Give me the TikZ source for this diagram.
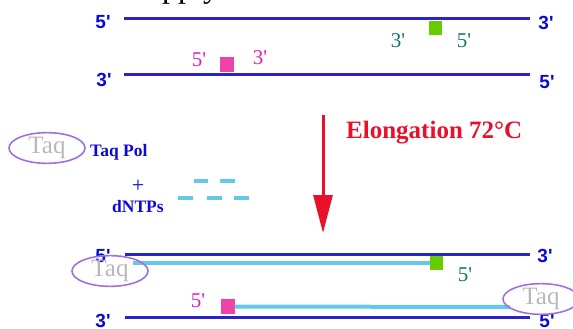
\documentclass[tikz,border=0pt]{standalone}
\usepackage{fontspec}
\setmainfont{Liberation Serif}[Ligatures=TeXOff]
\newfontfamily\lsans{Liberation Sans}[Ligatures=TeXOff]
\usetikzlibrary{arrows.meta,shapes.geometric}
\definecolor{strand}{HTML}{2A22CC}
\definecolor{newstrand}{HTML}{66C8E8}
\definecolor{endblue}{HTML}{0A0AD8}
\definecolor{primgreen}{HTML}{66CC00}
\definecolor{primpink}{HTML}{EE44AA}
\definecolor{tealtxt}{HTML}{117766}
\definecolor{magtxt}{HTML}{E020B0}
\definecolor{elored}{HTML}{E8102A}
\definecolor{taqpurple}{HTML}{A070E0}
\definecolor{taqgray}{HTML}{B8B8B8}
\tikzset{
  dna/.style={line width=3pt,color=strand},
  newdna/.style={line width=4pt,color=newstrand},
  endlab/.style={font=\lsans\bfseries\fontsize{19}{19}\selectfont,text=endblue,inner sep=0pt},
  tealab/.style={font=\fontsize{21}{21}\selectfont,text=tealtxt,inner sep=0pt},
  maglab/.style={font=\fontsize{21}{21}\selectfont,text=magtxt,inner sep=0pt},
  primg/.style={fill=primgreen,draw=none,minimum width=13pt,minimum height=14pt,inner sep=0pt},
  primp/.style={fill=primpink,draw=none,minimum width=14pt,minimum height=15pt,inner sep=0pt},
  taq/.style={ellipse,draw=taqpurple,line width=1.6pt,minimum width=76pt,minimum height=30pt,inner sep=0pt,
     font=\fontsize{25}{25}\selectfont,text=taqgray},
  bluetxt/.style={font=\bfseries\fontsize{17.5}{17.5}\selectfont,text=endblue,inner sep=0pt},
  dntp/.style={line width=3.5pt,color=newstrand},
}
\begin{document}
\begin{tikzpicture}[x=1pt,y=-1pt]
\useasboundingbox (0,0) rectangle (573,329);
\begin{scope}
\clip (0,0) rectangle (573,329);
\node[anchor=base west,font=\fontsize{32}{32}\selectfont,inner sep=0pt] (title) at (162,-2.5) {pply};
\end{scope}
% top double strand
\coordinate (s1a) at (124,19); \coordinate (s1b) at (530,19);
\coordinate (s2a) at (124,75); \coordinate (s2b) at (530,75);
\draw[dna] (s1a) -- (s1b);
\draw[dna] (s2a) -- (s2b);
\node[endlab] (l1a) at (103,22) {5'};
\node[endlab] (l1b) at (546,23) {3'};
\node[endlab] (l2a) at (104,80) {3'};
\node[endlab] (l2b) at (547,82) {5'};
\node[primg] (g1) at (435.5,28.5) {};
\node[tealab] (g1l) at (398,41) {3'};
\node[tealab] (g1r) at (464,41) {5'};
\node[primp] (p1) at (227,65) {};
\node[maglab] (p1l) at (199,60) {5'};
\node[maglab] (p1r) at (260,58) {3'};
% elongation arrow
\coordinate (arA) at (323,115); \coordinate (arB) at (323,233);
\draw[line width=3pt,elored,-{Triangle[width=19pt,length=38pt]}] (arA) -- (arB);
\node[anchor=west,font=\bfseries\fontsize{25}{25}\selectfont,text=elored,inner sep=0pt] (elo) at (346,133) {Elongation 72\textdegree C};
% Taq pol and dNTPs
\node[taq] (taq1) at (47,148) {Taq};
\node[bluetxt,anchor=west] (taqpol) at (90,152) {Taq Pol};
\node[bluetxt,font=\fontsize{22}{22}\selectfont] (plus) at (138,186) {+};
\node[bluetxt,anchor=west] (dntps) at (112,207) {dNTPs};
\coordinate (d1a) at (194,181); \coordinate (d1b) at (208,181);
\coordinate (d2a) at (220,181); \coordinate (d2b) at (235,181);
\coordinate (d3a) at (178,198); \coordinate (d3b) at (193,198);
\coordinate (d4a) at (207,198); \coordinate (d4b) at (222,198);
\coordinate (d5a) at (234,198); \coordinate (d5b) at (249,198);
\draw[dntp] (d1a) -- (d1b);
\draw[dntp] (d2a) -- (d2b);
\draw[dntp] (d3a) -- (d3b);
\draw[dntp] (d4a) -- (d4b);
\draw[dntp] (d5a) -- (d5b);
% bottom strands
\coordinate (s3a) at (125,254); \coordinate (s3b) at (530,254);
\coordinate (s4a) at (125,317); \coordinate (s4b) at (530,317);
\draw[dna] (s3a) -- (s3b);
\draw[dna] (s4a) -- (s4b);
\node[primg] (g2) at (436.5,263) {};
\coordinate (n1a) at (133,263);
\draw[newdna] (n1a) -- (g2.west);
\node[tealab] (g2l) at (465,275) {5'};
\node[primp] (p2) at (227.5,306.5) {};
\coordinate (n2b) at (510,307);
\draw[newdna] (p2.east) -- (n2b);
\node[maglab] (p2l) at (198,301) {5'};
\node[endlab] (l3a) at (103,256) {5'};
\node[endlab] (l3b) at (545,256) {3'};
\node[endlab] (l4a) at (103,321) {3'};
\node[endlab] (l4b) at (547,321) {5'};
\node[taq] (taq2) at (110,271) {Taq};
\node[taq] (taq3) at (541,299) {Taq};
\end{tikzpicture}
\end{document}
